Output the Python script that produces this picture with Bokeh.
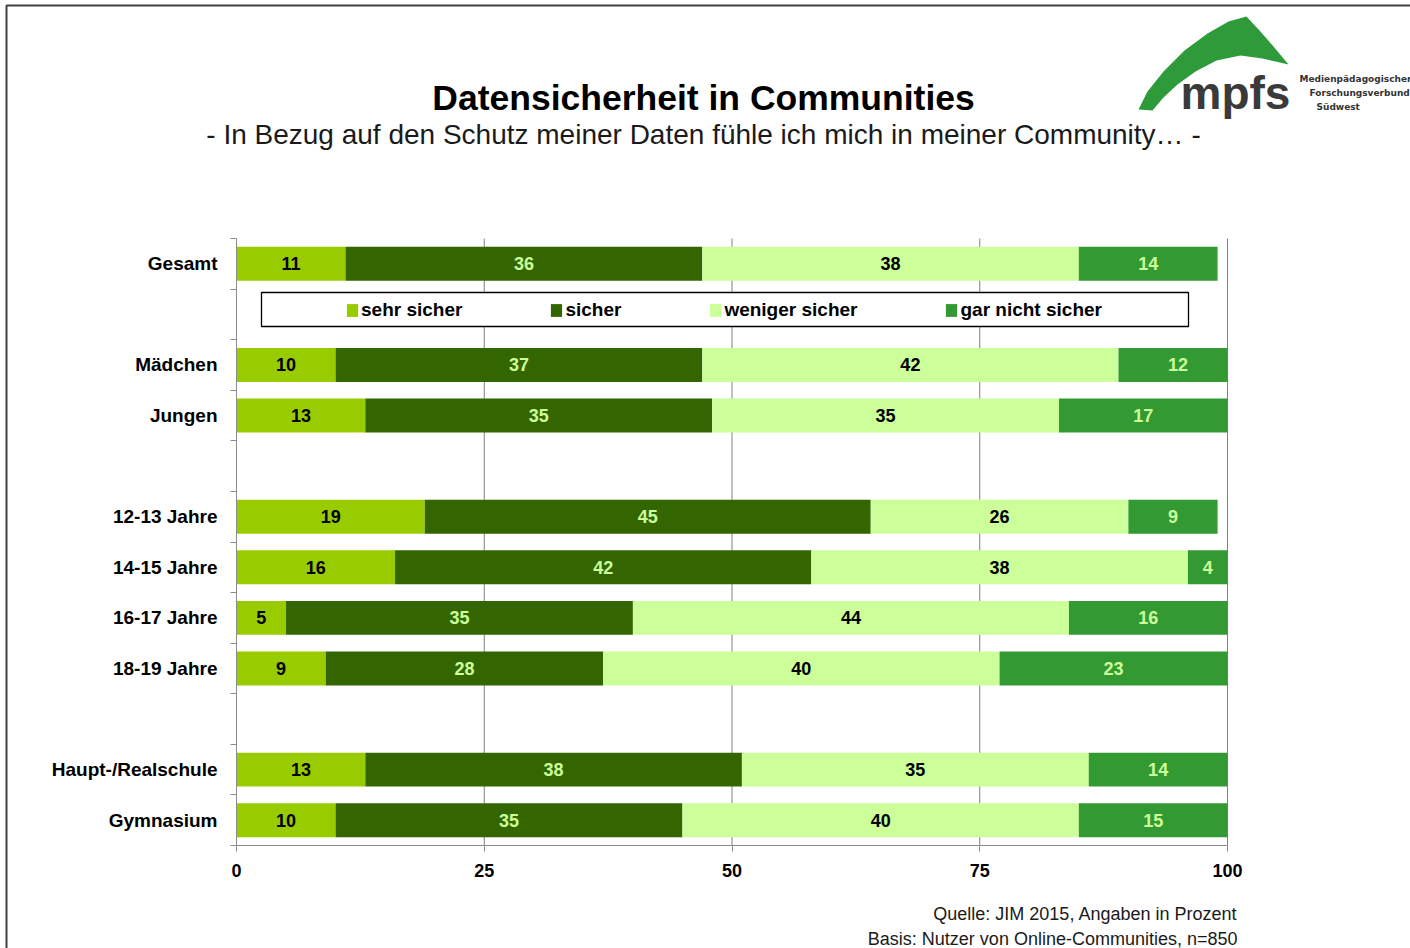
from bokeh.plotting import figure
from bokeh.models import (ColumnDataSource, Range1d, FixedTicker, Legend, LegendItem,
                          Label, BoxAnnotation, PolyAnnotation, LinearAxis)
from bokeh.core.properties import value
from bokeh.embed import file_html
from bokeh.resources import INLINE

# ---------------- data ----------------
rows = ["Gesamt", "", "Mädchen", "Jungen", " ", "12-13 Jahre", "14-15 Jahre",
        "16-17 Jahre", "18-19 Jahre", "  ", "Haupt-/Realschule", "Gymnasium"]
categories = ["Gesamt", "Mädchen", "Jungen", "12-13 Jahre", "14-15 Jahre",
              "16-17 Jahre", "18-19 Jahre", "Haupt-/Realschule", "Gymnasium"]
series = ["sehr sicher", "sicher", "weniger sicher", "gar nicht sicher"]
sehr_sicher = [11, 10, 13, 19, 16, 5, 9, 13, 10]
sicher = [36, 37, 35, 45, 42, 35, 28, 38, 35]
weniger_sicher = [38, 42, 35, 26, 38, 44, 40, 35, 40]
gar_nicht_sicher = [14, 12, 17, 9, 4, 16, 23, 14, 15]
x_ticks = [0, 25, 50, 75, 100]
title_text = "Datensicherheit in Communities"
subtitle_text = "- In Bezug auf den Schutz meiner Daten fühle ich mich in meiner Community… -"
source_lines = ["Quelle: JIM 2015, Angaben in Prozent",
                "Basis: Nutzer von Online-Communities, n=850"]
logo_word = "mpfs"
logo_lines = ["Medienpädagogischer", "Forschungsverbund", "Südwest"]

# ---------------- style ----------------
bar_colors = ["#99CC00", "#336600", "#CCFF99", "#339933"]
text_colors = ["#000000", "#CCFF99", "#000000", "#CCFF99"]
FONT = "Liberation Sans"
GRAY = "#8c8c8c"

W, H = 1410, 948
FL, FR, FT, FB = 236, 1227, 238, 845   # chart area in page pixels
n_rows = len(rows)


def X(px):
    return (px - FL) * 100.0 / (FR - FL)


def Y(py):
    return -0.5 + (py - FT) * n_rows / (FB - FT)


p = figure(width=W, height=H, output_backend="svg", toolbar_location=None,
           x_range=Range1d(X(0), X(W)), y_range=Range1d(Y(H), Y(0)),
           x_axis_location=None, y_axis_location=None,
           min_border=0, min_border_left=0, min_border_right=0,
           min_border_top=0, min_border_bottom=0)
p.outline_line_color = None
p.background_fill_color = "white"
p.border_fill_color = "white"
p.xgrid.visible = False
p.ygrid.visible = False

# page border
p.add_layout(BoxAnnotation(left=X(6), right=X(1600), top=Y(5), bottom=Y(1100),
                           fill_alpha=0, line_color="#404040", line_alpha=1,
                           line_width=2))

# vertical grid lines (from tick values)
grid_x = [t for t in x_ticks if t != 0]
p.segment(x0=grid_x, x1=grid_x, y0=[-0.5] * len(grid_x), y1=[n_rows - 0.5] * len(grid_x),
          line_color="#808080", line_width=1, level="underlay")

ys = [rows.index(c) for c in categories]
values = [sehr_sicher, sicher, weniger_sicher, gar_nicht_sicher]
lefts = [0] * len(categories)
renderers = []
for name, vals, col, tcol in zip(series, values, bar_colors, text_colors):
    rights = [min(l + v, 100) for l, v in zip(lefts, vals)]
    src = ColumnDataSource(dict(y=ys, left=lefts, right=rights,
                                mid=[(l + l + v) / 2 for l, v in zip(lefts, vals)],
                                lab=[str(v) for v in vals]))
    r = p.hbar(y="y", left="left", right="right", height=0.67, source=src,
               fill_color=col, line_color=None)
    p.text(x="mid", y="y", text="lab", source=src, text_align="center",
           text_baseline="middle", text_font=value(FONT), text_font_size="18px",
           text_font_style="bold", text_color=tcol)
    renderers.append(r)
    lefts = [l + v for l, v in zip(lefts, vals)]

# axes
xaxis = LinearAxis(fixed_location=n_rows - 0.5, bounds=(0, 100),
                   ticker=FixedTicker(ticks=x_ticks))
xaxis.axis_line_color = GRAY
xaxis.major_tick_line_color = GRAY
xaxis.major_tick_out = 6
xaxis.major_tick_in = 0
xaxis.minor_tick_line_color = None
xaxis.major_label_text_font = FONT
xaxis.major_label_text_font_size = "18px"
xaxis.major_label_text_font_style = "bold"
xaxis.major_label_text_color = "#000000"
xaxis.major_label_standoff = 12
p.add_layout(xaxis, "below")

yaxis = LinearAxis(fixed_location=0, bounds=(-0.5, n_rows - 0.5),
                   ticker=FixedTicker(ticks=ys, minor_ticks=[i - 0.5 for i in range(n_rows + 1)]))
yaxis.major_label_overrides = {y: c for y, c in zip(ys, categories)}
yaxis.axis_line_color = GRAY
yaxis.major_tick_line_color = None
yaxis.major_tick_out = 0
yaxis.major_tick_in = 0
yaxis.minor_tick_line_color = GRAY
yaxis.minor_tick_out = 6
yaxis.minor_tick_in = 0
yaxis.major_label_text_font = FONT
yaxis.major_label_text_font_size = "19px"
yaxis.major_label_text_font_style = "bold"
yaxis.major_label_text_color = "#000000"
yaxis.major_label_standoff = 13
p.add_layout(yaxis, "left")

# legend box + legend
p.add_layout(BoxAnnotation(left=X(261), right=X(1188), top=Y(292), bottom=Y(326),
                           fill_color="white", fill_alpha=1, line_color="#000000",
                           line_alpha=1, line_width=1.3))
legend = Legend(items=[LegendItem(label=s, renderers=[r]) for s, r in zip(series, renderers)],
                orientation="horizontal", location=(345, H - 321),
                padding=0, margin=0, spacing=87, label_standoff=2,
                glyph_width=14, glyph_height=16,
                border_line_color=None, background_fill_alpha=0,
                label_text_font=FONT, label_text_font_size="19px",
                label_text_font_style="bold", label_text_color="#000000")
p.add_layout(legend, "center")

# titles
p.add_layout(Label(x=X(703), y=Y(97), text=title_text, text_align="center",
                   text_baseline="middle", text_font=FONT, text_font_size="35.5px",
                   text_font_style="bold", text_color="#000000"))
p.add_layout(Label(x=X(703), y=Y(134), text=subtitle_text, text_align="center",
                   text_baseline="middle", text_font=FONT, text_font_size="28px",
                   text_color="#1a1a1a"))
for i, line in enumerate(source_lines):
    p.add_layout(Label(x=X(1237), y=Y(913 + 25 * i), text=line, text_align="right",
                       text_baseline="middle", text_font=FONT, text_font_size="18px",
                       text_color="#1a1a1a"))

# logo
lx = [1138, 1147, 1163, 1184, 1207, 1228, 1246, 1259, 1273, 1288,
      1262, 1240, 1216, 1195, 1177, 1163, 1152]
ly = [109, 91, 71, 50, 33, 21, 16, 30, 46, 64,
      58, 55, 60, 71, 84, 97, 110]
p.add_layout(PolyAnnotation(xs=[X(v) for v in lx], ys=[Y(v) for v in ly],
                            fill_color="#2f9a3a", fill_alpha=1, line_color=None))
p.add_layout(Label(x=X(1180), y=Y(92), text=logo_word, text_align="left",
                   text_baseline="alphabetic", text_font=FONT, text_font_size="46px",
                   text_font_style="bold", text_color="#3a3a3a"))
for (txt, lxp, lyp) in zip(logo_lines, [1299, 1309, 1316], [78, 92, 106]):
    p.add_layout(Label(x=X(lxp), y=Y(lyp), text=txt, text_align="left",
                       text_baseline="middle", text_font="DejaVu Sans",
                       text_font_size="9px", text_font_style="bold",
                       text_color="#333333"))

open("out.html", "w").write(file_html(p, INLINE))
